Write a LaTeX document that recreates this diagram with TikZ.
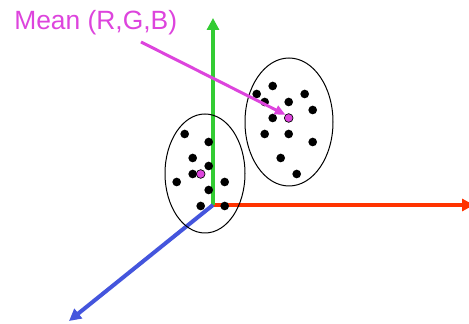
\documentclass[tikz,border=0pt]{standalone}
\usepackage{fontspec}
\setmainfont{Liberation Sans}
\usepackage{tikz}
\usetikzlibrary{arrows.meta}
\definecolor{redaxis}{HTML}{FF3300}
\definecolor{greenaxis}{HTML}{33CC33}
\definecolor{blueaxis}{HTML}{4455DD}
\definecolor{meanclr}{HTML}{DD44DD}

\tikzset{
  axis/.style={line width=3pt, -{Triangle[length=9pt, width=9pt]}},
  datadot/.style={circle, fill=black, inner sep=0pt, minimum size=6.5pt},
  meandot/.style={circle, fill=meanclr, draw=black, line width=0.5pt, inner sep=0pt, minimum size=6.5pt},
}

\begin{document}
\begin{tikzpicture}[x=0.75pt, y=-0.75pt]
\useasboundingbox (0,0) rectangle (469,324);

% --- the colour axes ---------------------------------------------------
\coordinate (origin) at (213,205);
\coordinate (rtip) at (474,205);
\coordinate (gtip) at (213,18);
\coordinate (btip) at (69,321);
\draw[axis, redaxis] (origin) -- (rtip);
\draw[axis, greenaxis] (origin) -- (gtip);
\draw[axis, blueaxis] (origin) -- (btip);

% --- the two clusters --------------------------------------------------
\draw[line width=0.75pt] (205,173.5) ellipse [x radius=40, y radius=59.5];
\draw[line width=0.75pt] (289,122) ellipse [x radius=44, y radius=64];

\foreach \px/\py [count=\i] in {272.7/86, 256.7/94, 304.7/94, 264.7/102,
    288.7/102, 312.7/110, 272.7/118, 264.7/134, 288.7/134, 312.7/142,
    280.7/158, 296.7/174}
  \node[datadot] (r\i) at (\px,\py) {};
\foreach \px/\py [count=\i] in {184.7/134, 208.7/142, 192.7/158, 208.7/166,
    192.7/174, 176.7/182, 224.7/182, 208.7/190, 200.7/206, 224.7/206}
  \node[datadot] (l\i) at (\px,\py) {};

% --- cluster means -----------------------------------------------------
\node[meandot] (rmean) at (288.7,118) {};
\node[meandot] (lmean) at (200.7,174) {};

% --- label and pointer -------------------------------------------------
\node[anchor=base west, inner sep=0pt, text=meanclr,
      font=\fontsize{19.8}{24}\selectfont] (meanlbl) at (14,30) {Mean (R,G,B)};
\coordinate (meantail) at (141,42);
\draw[meanclr, line width=2.25pt, -{Triangle[length=8pt, width=7pt]}]
  (meantail) -- (rmean.north west);

\end{tikzpicture}
\end{document}
